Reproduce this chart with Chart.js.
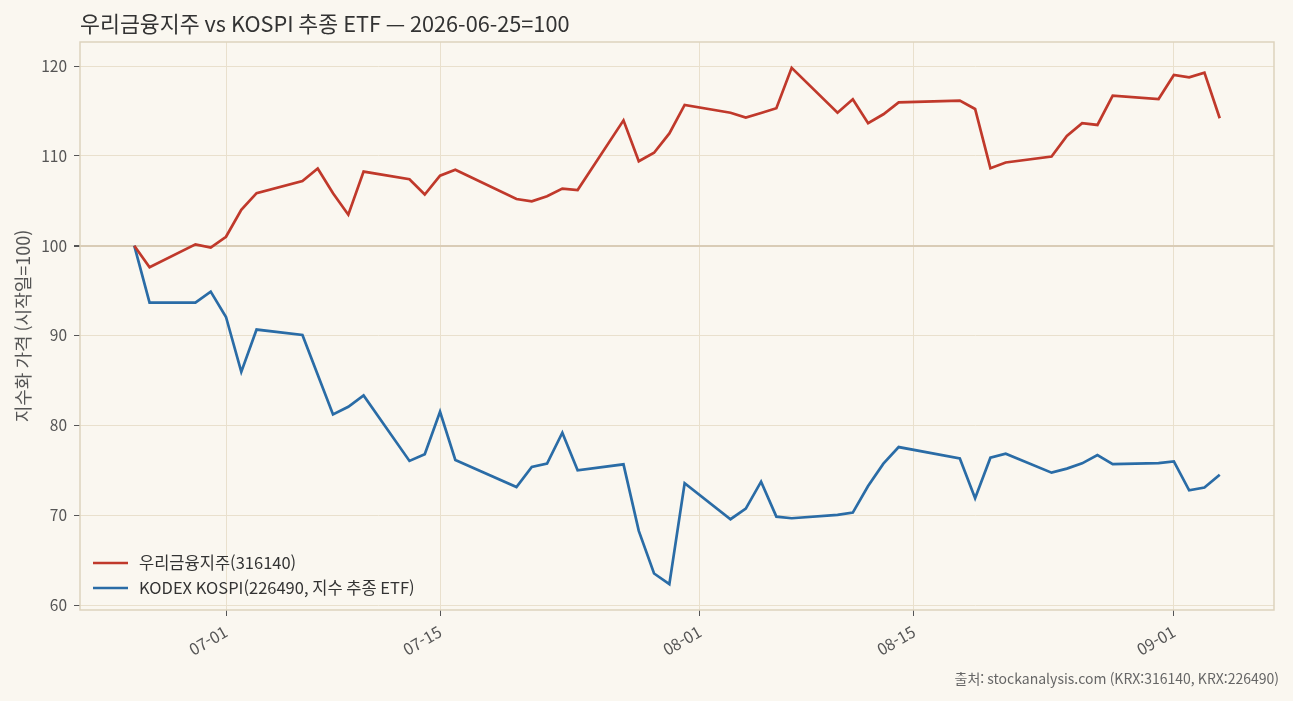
<!DOCTYPE html>
<html lang="ko">
<head>
<meta charset="utf-8">
<title>우리금융지주 vs KOSPI 추종 ETF</title>
<script src="https://cdn.jsdelivr.net/npm/chart.js@4.4.1/dist/chart.umd.min.js"></script>
<style>
    html, body { margin: 0; padding: 0; background: #faf7f0; }
    #wrap { width: 1293px; height: 701px; }
</style>
</head>
<body>
<div id="wrap"><canvas id="chart" width="1293" height="701"></canvas></div>
<script>
// trading days (KRX), index = 2026-06-25 close = 100
const startDate = '2026-06-25';
const dates = [
    '2026-06-25', '2026-06-26', '2026-06-29', '2026-06-30', '2026-07-01', '2026-07-02', '2026-07-03',
    '2026-07-06', '2026-07-07', '2026-07-08', '2026-07-09', '2026-07-10',
    '2026-07-13', '2026-07-14', '2026-07-15', '2026-07-16',
    '2026-07-20', '2026-07-21', '2026-07-22', '2026-07-23', '2026-07-24',
    '2026-07-27', '2026-07-28', '2026-07-29', '2026-07-30', '2026-07-31',
    '2026-08-03', '2026-08-04', '2026-08-05', '2026-08-06', '2026-08-07',
    '2026-08-10', '2026-08-11', '2026-08-12', '2026-08-13', '2026-08-14',
    '2026-08-18', '2026-08-19', '2026-08-20', '2026-08-21',
    '2026-08-24', '2026-08-25', '2026-08-26', '2026-08-27', '2026-08-28',
    '2026-08-31', '2026-09-01', '2026-09-02', '2026-09-03', '2026-09-04'
];

const wooriValues = [
    100, 97.6, 100.15, 99.8, 101.0, 104.0, 105.85,
    107.2, 108.6, 105.85, 103.45, 108.25,
    107.4, 105.7, 107.8, 108.45,
    105.2, 104.95, 105.5, 106.35, 106.2,
    113.95, 109.4, 110.35, 112.5, 115.67,
    114.8, 114.27, 114.78, 115.3, 119.8,
    114.8, 116.3, 113.63, 114.63, 115.96,
    116.15, 115.22, 108.63, 109.26,
    109.93, 112.22, 113.63, 113.44, 116.7,
    116.33, 119.0, 118.74, 119.26, 114.19
];

const kodexValues = [
    100, 93.67, 93.67, 94.89, 92.07, 85.96, 90.67,
    90.07, 85.65, 81.22, 82.07, 83.33,
    76.05, 76.8, 81.52, 76.15,
    73.15, 75.37, 75.74, 79.19, 75.0,
    75.67, 68.26, 63.52, 62.33, 73.56,
    69.56, 70.74, 73.74, 69.85, 69.67,
    70.05, 70.3, 73.26, 75.74, 77.59,
    76.33, 71.89, 76.41, 76.85,
    74.74, 75.19, 75.78, 76.7, 75.7,
    75.81, 76.0, 72.78, 73.08, 74.52
];

const tickDates = ['2026-07-01', '2026-07-15', '2026-08-01', '2026-08-15', '2026-09-01'];
const yTicks = [60, 70, 80, 90, 100, 110, 120];

const seriesLabels = ['우리금융지주(316140)', 'KODEX KOSPI(226490, 지수 추종 ETF)'];
const seriesColors = ['#c0392b', '#2a6ca6'];

const titleText = '우리금융지주 vs KOSPI 추종 ETF — 2026-06-25=100';
const yTitleText = '지수화 가격 (시작일=100)';
const sourceText = '출처: stockanalysis.com (KRX:316140, KRX:226490)';

const FONT = "'Noto Sans CJK KR', 'Noto Sans', sans-serif";
const BG = '#faf7f0';
const GRID = '#e9e0cd';
const FRAME = '#ddd3bd';

function dayOffset(s) {
    return (Date.parse(s) - Date.parse(startDate)) / 86400000;
}

function toPoints(values) {
    return dates.map((d, i) => ({ x: dayOffset(d), y: values[i] }));
}

// 5% margins like the original plot
const xFirst = dayOffset(dates[0]);
const xLast = dayOffset(dates[dates.length - 1]);
const xPad = (xLast - xFirst) * 0.05;
const allValues = wooriValues.concat(kodexValues);
const yLo = Math.min(...allValues), yHi = Math.max(...allValues);
const yPad = (yHi - yLo) * 0.05;

const decorPlugin = {
    id: 'decor',
    beforeDraw(chart) {
        const ctx = chart.ctx;
        ctx.save();
        ctx.fillStyle = BG;
        ctx.fillRect(0, 0, chart.width, chart.height);
        ctx.restore();
    },
    afterDraw(chart) {
        const ctx = chart.ctx;
        const area = chart.chartArea;
        ctx.save();

        // frame around plot area
        ctx.strokeStyle = FRAME;
        ctx.lineWidth = 1.5;
        ctx.strokeRect(area.left, area.top, area.right - area.left, area.bottom - area.top);

        // title
        ctx.fillStyle = '#333333';
        ctx.font = '21.7px ' + FONT;
        ctx.textAlign = 'left';
        ctx.textBaseline = 'middle';
        ctx.fillText(titleText, area.left, 24);

        // source note
        ctx.fillStyle = '#666666';
        ctx.font = '14px ' + FONT;
        ctx.textAlign = 'right';
        ctx.fillText(sourceText, 1279, 679);

        // legend
        ctx.font = '16.5px ' + FONT;
        ctx.textAlign = 'left';
        chart.data.datasets.forEach((ds, i) => {
            const y = 563 + i * 25;
            ctx.strokeStyle = ds.borderColor;
            ctx.lineWidth = 2.7;
            ctx.beginPath();
            ctx.moveTo(93, y);
            ctx.lineTo(128, y);
            ctx.stroke();
            ctx.fillStyle = '#333333';
            ctx.fillText(ds.label, 139, y);
        });
        ctx.restore();
    }
};

new Chart('chart', {
    type: 'line',
    data: {
        datasets: [
            {
                label: seriesLabels[0],
                data: toPoints(wooriValues),
                borderColor: seriesColors[0],
                borderWidth: 2.7,
                pointRadius: 0,
                tension: 0
            },
            {
                label: seriesLabels[1],
                data: toPoints(kodexValues),
                borderColor: seriesColors[1],
                borderWidth: 2.7,
                pointRadius: 0,
                tension: 0
            }
        ]
    },
    options: {
        responsive: false,
        animation: false,
        devicePixelRatio: 1,
        layout: { padding: { left: 0, top: 42, right: 19, bottom: 0 } },
        plugins: {
            legend: { display: false },
            title: { display: false },
            tooltip: { enabled: false }
        },
        scales: {
            x: {
                type: 'linear',
                min: xFirst - xPad,
                max: xLast + xPad,
                afterBuildTicks: scale => {
                    scale.ticks = tickDates.map(d => ({ value: dayOffset(d) }));
                },
                afterFit: scale => { scale.height = 91; },
                ticks: {
                    callback: (v, i) => tickDates[i].slice(5),
                    minRotation: 30,
                    maxRotation: 30,
                    autoSkip: false,
                    padding: 6,
                    color: '#555555',
                    font: { family: FONT, size: 16 }
                },
                grid: {
                    color: GRID,
                    lineWidth: 1,
                    tickLength: 6,
                    tickColor: '#555555',
                    drawOnChartArea: true
                },
                border: { display: false }
            },
            y: {
                min: yLo - yPad,
                max: yHi + yPad,
                afterBuildTicks: scale => {
                    scale.ticks = yTicks.map(v => ({ value: v }));
                },
                afterFit: scale => { scale.width = 80; },
                ticks: {
                    padding: 7,
                    color: '#555555',
                    font: { family: FONT, size: 15.5 }
                },
                grid: {
                    color: ctx => ctx.tick && ctx.tick.value === 100 ? '#d9ccb6' : GRID,
                    lineWidth: ctx => ctx.tick && ctx.tick.value === 100 ? 2 : 1,
                    tickLength: 6,
                    tickColor: '#555555'
                },
                border: { display: false },
                title: {
                    display: true,
                    text: yTitleText,
                    color: '#555555',
                    font: { family: FONT, size: 18 },
                    padding: { top: 12, bottom: 0 }
                }
            }
        }
    },
    plugins: [decorPlugin]
});
</script>
</body>
</html>
